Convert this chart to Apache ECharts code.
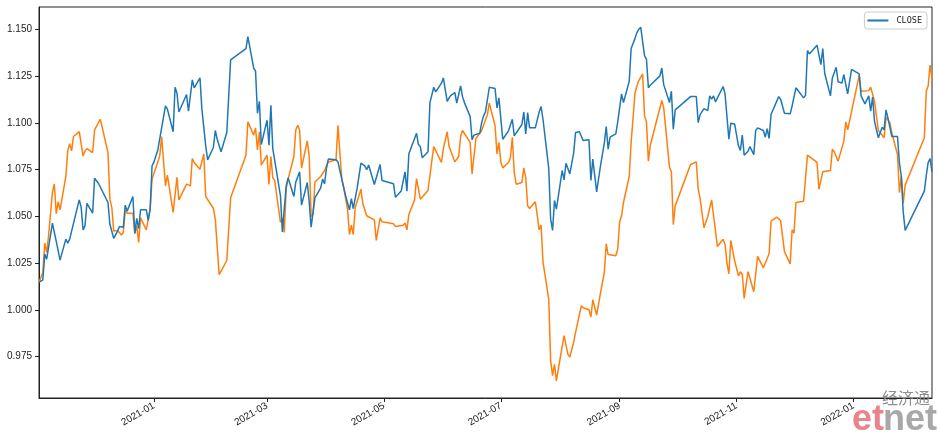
<!DOCTYPE html>
<html><head><meta charset="utf-8">
<script src="https://cdn.jsdelivr.net/npm/echarts@6/dist/echarts.min.js"></script>
<style>html,body{margin:0;padding:0;background:#fff}#c{width:939px;height:437px}</style>
</head><body><div id="c"></div>
<script>
const closeSeries = [
['2020-11-02',1.0147],['2020-11-04',1.0161],['2020-11-05',1.0298],['2020-11-06',1.0271],['2020-11-09',1.0464],['2020-11-10',1.0414],['2020-11-11',1.0366],['2020-11-12',1.0357],['2020-11-13',1.0266],['2020-11-16',1.0378],['2020-11-17',1.0357],['2020-11-18',1.0378],['2020-11-23',1.0588],['2020-11-24',1.0549],['2020-11-25',1.0428],['2020-11-26',1.0449],['2020-11-27',1.0569],['2020-11-30',1.0517],['2020-12-01',1.0704],['2020-12-02',1.0699],['2020-12-03',1.0677],['2020-12-04',1.0681],['2020-12-08',1.0574],['2020-12-09',1.0458],['2020-12-10',1.0455],['2020-12-11',1.0382],['2020-12-13',1.0421],['2020-12-14',1.0446],['2020-12-16',1.0442],['2020-12-17',1.0560],['2020-12-18',1.0528],['2020-12-21',1.0606],['2020-12-22',1.0408],['2020-12-23',1.0489],['2020-12-24',1.0435],['2020-12-25',1.0535],['2020-12-28',1.0535],['2020-12-29',1.0478],['2020-12-30',1.0539],['2020-12-31',1.0770],['2021-01-01',1.0791],['2021-01-03',1.0855],['2021-01-07',1.1090],['2021-01-08',1.1073],['2021-01-11',1.0952],['2021-01-12',1.1190],['2021-01-13',1.1158],['2021-01-14',1.1058],['2021-01-15',1.1058],['2021-01-18',1.1151],['2021-01-19',1.1062],
['2021-01-21',1.1229],['2021-01-22',1.1187],['2021-01-25',1.1240],['2021-01-26',1.1073],['2021-01-27',1.1076],['2021-01-28',1.0877],['2021-01-29',1.0802],['2021-02-01',1.0868],['2021-02-02',1.0959],['2021-02-03',1.0912],['2021-02-05',1.0845],['2021-02-08',1.0948],['2021-02-10',1.1336],['2021-02-18',1.1397],['2021-02-19',1.1461],['2021-02-22',1.1293],['2021-02-23',1.1276],['2021-02-24',1.1051],['2021-02-25',1.1115],['2021-02-26',1.0884],['2021-03-01',1.1014],['2021-03-02',1.0880],['2021-03-03',1.1094],['2021-03-04',1.0862],['2021-03-05',1.0859],['2021-03-08',1.0610],['2021-03-09',1.0417],['2021-03-10',1.0414],['2021-03-11',1.0663],['2021-03-12',1.0706],['2021-03-15',1.0606],['2021-03-16',1.0684],['2021-03-17',1.0688],['2021-03-18',1.0738],['2021-03-19',1.0560],['2021-03-22',1.0681],['2021-03-23',1.0578],['2021-03-24',1.0442],['2021-03-25',1.0432],['2021-03-26',1.0599],['2021-03-29',1.0652],['2021-03-30',1.0699],['2021-03-31',1.0674],['2021-04-01',1.0756],['2021-04-02',1.0806],['2021-04-06',1.0802],['2021-04-07',1.0791],
['2021-04-09',1.0699],['2021-04-11',1.0610],['2021-04-13',1.0535],['2021-04-14',1.0595],['2021-04-15',1.0542],['2021-04-17',1.0649],['2021-04-19',1.0784],['2021-04-20',1.0774],['2021-04-21',1.0770],['2021-04-22',1.0749],['2021-04-23',1.0774],['2021-04-26',1.0670],['2021-04-27',1.0674],['2021-04-29',1.0777],['2021-04-30',1.0692],['2021-05-06',1.0674],['2021-05-07',1.0602],['2021-05-10',1.0635],['2021-05-12',1.0738],['2021-05-13',1.0635],['2021-05-14',1.0834],['2021-05-17',1.0916],['2021-05-18',1.0944],['2021-05-19',1.0884],['2021-05-20',1.0873],['2021-05-21',1.0813],['2021-05-24',1.0845],['2021-05-25',1.1108],['2021-05-27',1.1190],['2021-05-28',1.1165],['2021-05-31',1.1212],['2021-06-01',1.1240],['2021-06-03',1.1115],['2021-06-04',1.1133],['2021-06-05',1.1147],['2021-06-07',1.1162],['2021-06-08',1.1105],['2021-06-10',1.1197],['2021-06-11',1.1140],['2021-06-12',1.1108],['2021-06-15',1.1033],['2021-06-16',1.0909],['2021-06-17',1.0934],['2021-06-20',1.0944],['2021-06-21',1.1001],['2021-06-22',1.1037],['2021-06-23',1.1058],['2021-06-24',1.1062],['2021-06-25',1.1190],
['2021-06-28',1.1183],['2021-06-29',1.1080],['2021-06-30',1.1133],['2021-07-01',1.1126],['2021-07-02',1.0912],['2021-07-03',1.0927],['2021-07-05',1.0957],['2021-07-06',1.0948],['2021-07-07',1.1019],['2021-07-08',1.0930],['2021-07-09',1.0930],['2021-07-12',1.0991],['2021-07-13',1.1058],['2021-07-14',1.0941],['2021-07-15',1.1055],['2021-07-16',1.0973],['2021-07-19',1.0973],['2021-07-20',1.0966],['2021-07-21',1.1058],['2021-07-22',1.1087],['2021-07-23',1.1019],['2021-07-26',1.0756],['2021-07-27',1.0485],['2021-07-28',1.0425],['2021-07-29',1.0585],['2021-07-30',1.0539],['2021-08-02',1.0745],['2021-08-03',1.0695],['2021-08-04',1.0784],['2021-08-06',1.0727],['2021-08-08',1.0838],['2021-08-09',1.0948],['2021-08-11',1.0952],['2021-08-13',1.0905],['2021-08-16',1.0909],['2021-08-17',1.0692],['2021-08-18',1.0806],['2021-08-20',1.0631],['2021-08-22',1.0770],['2021-08-24',1.0891],['2021-08-25',1.0980],['2021-08-26',1.0859],['2021-08-27',1.0923],['2021-08-30',1.0941],['2021-08-31',1.1005],['2021-09-02',1.1155],['2021-09-03',1.1108],['2021-09-06',1.1222],['2021-09-07',1.1397],['2021-09-08',1.1400],['2021-09-09',1.1450],['2021-09-10',1.1482],['2021-09-11',1.1500],
['2021-09-12',1.1511],['2021-09-13',1.1521],['2021-09-14',1.1358],['2021-09-15',1.1340],['2021-09-16',1.1187],['2021-09-17',1.1201],['2021-09-22',1.1251],['2021-09-23',1.1293],['2021-09-24',1.1204],['2021-09-27',1.1108],['2021-09-28',1.1169],['2021-09-29',1.0966],['2021-09-30',1.1069],['2021-10-08',1.1140],['2021-10-11',1.1140],['2021-10-12',1.1001],['2021-10-13',1.1044],['2021-10-14',1.1037],['2021-10-15',1.1076],['2021-10-17',1.1065],['2021-10-18',1.1144],['2021-10-19',1.1126],['2021-10-20',1.1144],['2021-10-21',1.1112],['2021-10-25',1.1194],['2021-10-26',1.1155],['2021-10-28',1.0912],['2021-10-29',1.0998],['2021-10-31',1.0994],['2021-11-02',1.0877],['2021-11-03',1.0852],['2021-11-04',1.0934],['2021-11-05',1.0827],['2021-11-07',1.0848],['2021-11-08',1.0873],['2021-11-10',1.0830],['2021-11-11',1.0959],['2021-11-12',1.0973],['2021-11-15',1.0959],['2021-11-16',1.0923],['2021-11-17',1.0969],['2021-11-18',1.0916],['2021-11-19',1.1044],['2021-11-23',1.1140],['2021-11-24',1.1126],['2021-11-26',1.1051],
['2021-11-29',1.1048],['2021-11-30',1.1090],['2021-12-01',1.1090],['2021-12-02',1.1187],['2021-12-06',1.1133],['2021-12-07',1.1147],['2021-12-08',1.1386],['2021-12-09',1.1368],['2021-12-13',1.1415],['2021-12-15',1.1311],['2021-12-16',1.1397],['2021-12-17',1.1265],['2021-12-20',1.1144],['2021-12-21',1.1240],['2021-12-22',1.1236],['2021-12-23',1.1297],['2021-12-24',1.1219],['2021-12-26',1.1212],['2021-12-27',1.1258],['2021-12-29',1.1155],['2021-12-31',1.1286],['2022-01-04',1.1261],['2022-01-05',1.1144],['2022-01-07',1.1101],['2022-01-09',1.1144],['2022-01-10',1.1062],['2022-01-11',1.1137],['2022-01-12',1.1008],['2022-01-14',1.0920],['2022-01-16',1.0976],['2022-01-17',1.0962],['2022-01-18',1.1069],['2022-01-19',1.1026],['2022-01-20',1.1019],['2022-01-21',1.0927],['2022-01-24',1.0927],['2022-01-25',1.0784],['2022-01-26',1.0713],['2022-01-27',1.0521],['2022-01-28',1.0425],['2022-02-07',1.0635],['2022-02-08',1.0717],['2022-02-09',1.0788],['2022-02-10',1.0809],['2022-02-11',1.0738]
];
const otherSeries = [
['2020-11-02',1.0147],['2020-11-04',1.0200],['2020-11-05',1.0357],['2020-11-06',1.0307],['2020-11-07',1.0396],['2020-11-09',1.0627],['2020-11-10',1.0674],['2020-11-11',1.0514],['2020-11-12',1.0578],['2020-11-13',1.0535],['2020-11-16',1.0713],['2020-11-17',1.0850],['2020-11-18',1.0889],['2020-11-19',1.0850],['2020-11-20',1.0927],['2020-11-23',1.0953],['2020-11-24',1.0953],['2020-11-25',1.0823],['2020-11-26',1.0850],['2020-11-27',1.0862],['2020-11-30',1.0841],['2020-12-01',1.0962],['2020-12-04',1.1019],['2020-12-08',1.0841],['2020-12-09',1.0592],['2020-12-10',1.0547],['2020-12-11',1.0421],['2020-12-13',1.0424],['2020-12-14',1.0428],['2020-12-15',1.0400],['2020-12-16',1.0414],['2020-12-17',1.0535],['2020-12-18',1.0517],['2020-12-21',1.0517],['2020-12-22',1.0410],['2020-12-23',1.0449],['2020-12-24',1.0360],['2020-12-25',1.0492],['2020-12-28',1.0428],['2020-12-29',1.0485],['2020-12-30',1.0539],['2020-12-31',1.0699],['2021-01-04',1.0823],['2021-01-05',1.0927],['2021-01-07',1.0663],['2021-01-08',1.0720],['2021-01-11',1.0521],['2021-01-13',1.0709],['2021-01-14',1.0588],['2021-01-15',1.0583],['2021-01-18',1.0672],['2021-01-19',1.0663],
['2021-01-20',1.0663],['2021-01-21',1.0809],['2021-01-22',1.0788],['2021-01-25',1.0752],['2021-01-26',1.0745],['2021-01-27',1.0834],['2021-01-28',1.0606],['2021-02-01',1.0542],['2021-02-02',1.0485],['2021-02-04',1.0189],['2021-02-08',1.0264],['2021-02-10',1.0599],['2021-02-18',1.0827],['2021-02-19',1.1005],['2021-02-22',1.0934],['2021-02-23',1.0973],['2021-02-24',1.0855],['2021-02-25',1.0952],['2021-02-26',1.0774],['2021-03-01',1.0827],['2021-03-02',1.0670],['2021-03-03',1.0820],['2021-03-04',1.0706],['2021-03-05',1.0692],['2021-03-08',1.0467],['2021-03-09',1.0489],['2021-03-10',1.0414],['2021-03-11',1.0649],['2021-03-12',1.0699],['2021-03-15',1.0820],['2021-03-16',1.0962],['2021-03-17',1.0987],['2021-03-18',1.0962],['2021-03-19',1.0759],['2021-03-22',1.0903],['2021-03-23',1.0823],['2021-03-24',1.0499],['2021-03-25',1.0510],['2021-03-26',1.0684],['2021-03-29',1.0713],['2021-03-30',1.0717],['2021-03-31',1.0745],['2021-04-01',1.0770],['2021-04-02',1.0791],['2021-04-06',1.0802],['2021-04-07',1.0987],
['2021-04-09',1.0699],['2021-04-10',1.0654],['2021-04-12',1.0539],['2021-04-13',1.0403],['2021-04-14',1.0453],['2021-04-15',1.0403],['2021-04-16',1.0546],['2021-04-19',1.0645],['2021-04-20',1.0567],['2021-04-22',1.0503],['2021-04-23',1.0510],['2021-04-26',1.0481],['2021-04-27',1.0371],['2021-04-29',1.0492],['2021-04-30',1.0471],['2021-05-06',1.0460],['2021-05-07',1.0446],['2021-05-11',1.0453],['2021-05-12',1.0464],['2021-05-13',1.0428],['2021-05-14',1.0510],['2021-05-17',1.0588],['2021-05-18',1.0702],['2021-05-20',1.0592],['2021-05-24',1.0638],['2021-05-26',1.0798],['2021-05-27',1.0873],['2021-05-28',1.0877],['2021-05-31',1.0788],['2021-06-01',1.0862],['2021-06-03',1.0952],['2021-06-04',1.0873],['2021-06-07',1.0791],['2021-06-09',1.0820],['2021-06-10',1.0927],['2021-06-11',1.0959],['2021-06-15',1.0895],['2021-06-16',1.0727],['2021-06-18',1.0916],['2021-06-20',1.0944],['2021-06-21',1.0959],['2021-06-24',1.1044],['2021-06-25',1.1105],
['2021-06-28',1.0984],['2021-06-29',1.0834],['2021-06-30',1.0895],['2021-07-01',1.0791],['2021-07-02',1.0759],['2021-07-05',1.0788],['2021-07-06',1.0813],['2021-07-07',1.0923],['2021-07-08',1.0734],['2021-07-09',1.0672],['2021-07-12',1.0681],['2021-07-13',1.0759],['2021-07-14',1.0706],['2021-07-15',1.0556],['2021-07-16',1.0542],['2021-07-19',1.0578],['2021-07-20',1.0506],['2021-07-21',1.0428],['2021-07-22',1.0453],['2021-07-23',1.0257],['2021-07-26',1.0058],['2021-07-27',0.9727],['2021-07-28',0.9648],['2021-07-29',0.9709],['2021-07-30',0.9620],['2021-07-31',0.9684],['2021-08-03',0.9862],['2021-08-05',0.9762],['2021-08-06',0.9748],['2021-08-08',0.9826],['2021-08-09',0.9880],['2021-08-12',1.0022],['2021-08-13',1.0011],['2021-08-16',1.0001],['2021-08-17',0.9962],['2021-08-18',1.0054],['2021-08-20',0.9972],['2021-08-22',1.0090],['2021-08-24',1.0200],['2021-08-25',1.0353],['2021-08-26',1.0296],['2021-08-30',1.0289],['2021-08-31',1.0325],['2021-09-01',1.0471],['2021-09-02',1.0503],['2021-09-03',1.0574],['2021-09-06',1.0713],['2021-09-07',1.0895],['2021-09-09',1.1158],['2021-09-10',1.1197],['2021-09-11',1.1226],
['2021-09-12',1.1233],['2021-09-13',1.1261],['2021-09-14',1.1037],['2021-09-15',1.1005],['2021-09-16',1.0795],['2021-09-17',1.0880],['2021-09-23',1.1119],['2021-09-24',1.1080],['2021-09-27',1.0763],['2021-09-28',1.0738],['2021-09-29',1.0456],['2021-09-30',1.0556],['2021-10-08',1.0777],['2021-10-11',1.0791],['2021-10-12',1.0645],['2021-10-13',1.0595],['2021-10-14',1.0602],['2021-10-15',1.0439],['2021-10-17',1.0499],['2021-10-19',1.0588],['2021-10-20',1.0506],['2021-10-21',1.0510],['2021-10-22',1.0339],['2021-10-25',1.0378],['2021-10-26',1.0350],['2021-10-27',1.0250],['2021-10-28',1.0193],['2021-10-29',1.0371],['2021-10-31',1.0264],['2021-11-02',1.0182],['2021-11-03',1.0204],['2021-11-04',1.0189],['2021-11-05',1.0061],['2021-11-07',1.0204],['2021-11-10',1.0097],['2021-11-12',1.0286],['2021-11-15',1.0225],['2021-11-18',1.0300],['2021-11-19',1.0474],['2021-11-22',1.0496],['2021-11-24',1.0478],['2021-11-26',1.0311],
['2021-11-29',1.0246],['2021-11-30',1.0428],['2021-12-01',1.0410],['2021-12-02',1.0574],['2021-12-06',1.0581],['2021-12-08',1.0827],['2021-12-09',1.0823],['2021-12-13',1.0788],['2021-12-14',1.0645],['2021-12-15',1.0642],['2021-12-16',1.0738],['2021-12-17',1.0731],['2021-12-20',1.0745],['2021-12-21',1.0859],['2021-12-22',1.0845],['2021-12-24',1.0795],['2021-12-27',1.0902],['2021-12-28',1.1005],['2021-12-29',1.0962],['2021-12-30',1.0969],['2022-01-04',1.1254],['2022-01-05',1.1169],['2022-01-09',1.1172],['2022-01-10',1.1190],['2022-01-11',1.1197],['2022-01-12',1.1115],['2022-01-14',1.0959],['2022-01-17',1.0920],['2022-01-18',1.1030],['2022-01-20',1.1001],['2022-01-21',1.0948],['2022-01-24',1.0830],['2022-01-25',1.0627],['2022-01-26',1.0717],['2022-01-27',1.0571],['2022-01-28',1.0667],['2022-02-07',1.0920],['2022-02-08',1.1169],['2022-02-09',1.1197],['2022-02-10',1.1308],['2022-02-11',1.1240]
];
const xTickDates = ['2021-01-01','2021-03-01','2021-05-01','2021-07-01','2021-09-01','2021-11-01','2022-01-01'];
const yTickValues = [0.975,1.000,1.025,1.050,1.075,1.100,1.125,1.150];
const xRange = ['2020-11-02','2022-02-11'];
const yRange = [0.9529,1.1619];

function parseDay(s){const p=s.split('-').map(Number);return new Date(p[0],p[1]-1,p[2]).getTime();}
const xTicks = xTickDates.map(parseDay);
const toPts = arr => arr.map(d => [parseDay(d[0]), d[1]]);
const labelFont = 'Liberation Sans';

const chart = echarts.init(document.getElementById('c'), null, {renderer:'canvas'});
chart.setOption({
  animation:false,
  backgroundColor:'#fff',
  grid:{left:39,right:7,top:7,bottom:39,show:true,borderColor:'#222',borderWidth:1,backgroundColor:'#fff'},
  legend:{
    data:['CLOSE'], right:12, top:12, orient:'vertical',
    backgroundColor:'#fff', borderColor:'#cccccc', borderWidth:1, borderRadius:3,
    padding:[4,5,4,3], itemWidth:21, itemHeight:2, icon:'rect',
    textStyle:{fontFamily:'DejaVu Sans Mono', fontSize:8.5, color:'#222', padding:[0,0,0,3]}
  },
  xAxis:{
    type:'value', min:parseDay(xRange[0]), max:parseDay(xRange[1]), scale:true,
    splitLine:{show:false},
    axisLine:{show:true,onZero:false,lineStyle:{color:'#222',width:1}},
    axisTick:{show:true,customValues:xTicks,length:4,lineStyle:{color:'#222'}},
    axisLabel:{
      customValues:xTicks, rotate:30, margin:7, fontSize:10, color:'#222', fontFamily:labelFont,
      formatter:function(v){const d=new Date(v);const m=d.getMonth()+1;return d.getFullYear()+'-'+(m<10?'0'+m:m);}
    }
  },
  yAxis:{
    type:'value', min:yRange[0], max:yRange[1], scale:true,
    splitLine:{show:false},
    axisLine:{show:true,onZero:false,lineStyle:{color:'#222',width:1}},
    axisTick:{show:true,customValues:yTickValues,length:4,lineStyle:{color:'#222'}},
    axisLabel:{customValues:yTickValues, margin:7, fontSize:10, color:'#222', fontFamily:labelFont,
      formatter:function(v){return v.toFixed(3);}}
  },
  series:[
    {name:'CLOSE', type:'line', data:toPts(closeSeries), showSymbol:false, symbol:'none',
     lineStyle:{color:'#1f77b4',width:1.5}, itemStyle:{color:'#1f77b4'}, z:3},
    {name:'other', type:'line', data:toPts(otherSeries), showSymbol:false, symbol:'none',
     lineStyle:{color:'#ff7f0e',width:1.5}, itemStyle:{color:'#ff7f0e'}, z:2}
  ],
  graphic:[
    {type:'text', z:100, style:{x:882, y:390, text:'经济通', fontSize:16, fontFamily:'Noto Sans CJK SC', fill:'#8e8e8e', verticalAlign:'top'}},
    {type:'text', z:100, style:{x:852, y:402, text:'et', fontSize:36, fontWeight:'bold', fontFamily:'Liberation Sans', fill:'#e8848b', verticalAlign:'top'}},
    {type:'text', z:100, style:{x:883, y:402, text:'net', fontSize:36, fontWeight:'bold', fontFamily:'Liberation Sans', fill:'#a8a8a8', verticalAlign:'top'}}
  ]
});
</script></body></html>
